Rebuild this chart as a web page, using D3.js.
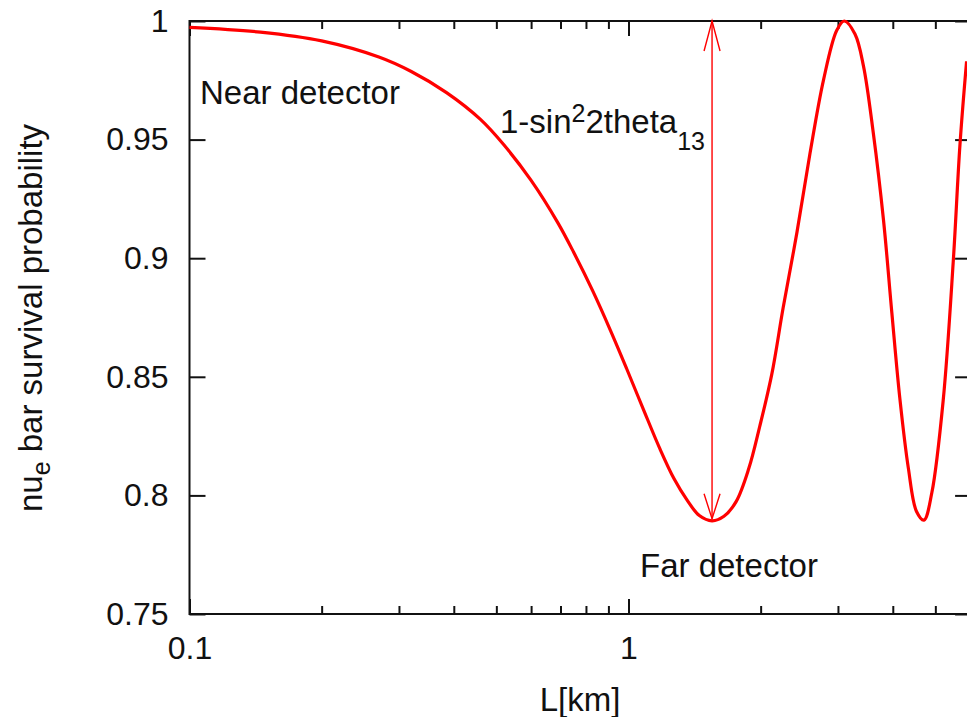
<!DOCTYPE html>
<html>
<head>
<meta charset="utf-8">
<script src="https://cdn.jsdelivr.net/npm/d3@7"></script>
<style>
  html, body { margin: 0; padding: 0; background: #fff; }
  svg text { font-family: "Liberation Sans", Arial, sans-serif; fill: #111; }
</style>
</head>
<body>
<svg id="chart" width="967" height="717"></svg>
<script>
// ---- data ----
const distanceKm = [0.10, 0.145, 0.20, 0.27, 0.32, 0.385, 0.46, 0.52, 0.60, 0.69, 0.75, 0.83, 0.91, 0.99, 1.08, 1.18, 1.27, 1.36, 1.45, 1.55, 1.65, 1.76, 1.88, 1.99, 2.12, 2.25, 2.42, 2.59, 2.78, 2.98, 3.10, 3.28, 3.43, 3.61, 3.81, 3.98, 4.15, 4.34, 4.53, 4.71, 4.91, 5.21, 5.49, 5.69, 5.89];
const survivalProb = [0.9973, 0.9953, 0.9916, 0.9848, 0.9787, 0.9698, 0.9585, 0.9478, 0.9328, 0.9150, 0.9025, 0.8860, 0.8695, 0.8535, 0.8365, 0.8195, 0.8070, 0.7980, 0.7915, 0.7893, 0.7912, 0.7975, 0.8114, 0.8290, 0.8510, 0.8790, 0.9110, 0.9440, 0.9750, 0.9960, 1.0000, 0.9945, 0.9810, 0.9530, 0.9160, 0.8770, 0.8410, 0.8115, 0.7932, 0.7896, 0.8012, 0.8400, 0.8980, 0.9480, 0.9830];
const xMajorTicks = [0.1, 1];
const xMinorTicks = [0.2, 0.3, 0.4, 0.5, 0.6, 0.7, 0.8, 0.9, 2, 3, 4, 5];
const yTicks = [0.75, 0.8, 0.85, 0.9, 0.95, 1];
const yTickLabels = ["0.75", "0.8", "0.85", "0.9", "0.95", "1"];
const arrowL = 1.55;        // km, position of the double arrow
const arrowFrom = 0.7893;   // bottom of arrow (first minimum)
const arrowTo = 1.0;        // top of arrow

// ---- layout ----
const svg = d3.select("#chart");
const padL = 189.5, padR = 970.1, padT = 21, padB = 614;
const x = d3.scaleLog().domain([0.1, 6]).range([padL, padR]);
const y = d3.scaleLinear().domain([0.75, 1]).range([padB, padT]);
const FS = 32, FL = 33, FSUB = 25;

// axes
const gAxes = svg.append("g");
function styleAxis(g) {
  g.select(".domain").remove();
  g.selectAll(".tick line").attr("stroke", "#111").attr("stroke-width", 2);
  g.selectAll(".tick text").style("font-size", FS + "px").attr("fill", "#111")
    .style("font-family", '"Liberation Sans", Arial, sans-serif');
}
// bottom major
gAxes.append("g").attr("transform", `translate(0,${padB})`)
  .call(d3.axisBottom(x).tickValues(xMajorTicks).tickSizeInner(-15).tickSizeOuter(0).tickPadding(22)
    .tickFormat(d => d === 0.1 ? "0.1" : "1"))
  .call(styleAxis);
// bottom minor
gAxes.append("g").attr("transform", `translate(0,${padB})`)
  .call(d3.axisBottom(x).tickValues(xMinorTicks).tickSizeInner(-8).tickSizeOuter(0).tickFormat(""))
  .call(styleAxis);
// top major / minor (mirror)
gAxes.append("g").attr("transform", `translate(0,${padT})`)
  .call(d3.axisTop(x).tickValues(xMajorTicks).tickSizeInner(-15).tickSizeOuter(0).tickFormat(""))
  .call(styleAxis);
gAxes.append("g").attr("transform", `translate(0,${padT})`)
  .call(d3.axisTop(x).tickValues(xMinorTicks).tickSizeInner(-8).tickSizeOuter(0).tickFormat(""))
  .call(styleAxis);
// left
gAxes.append("g").attr("transform", `translate(${padL},0)`)
  .call(d3.axisLeft(y).tickValues(yTicks).tickSizeInner(-16).tickSizeOuter(0).tickPadding(21)
    .tickFormat((d, i) => yTickLabels[i]))
  .call(styleAxis);
// right (mirror)
gAxes.append("g").attr("transform", `translate(${padR},0)`)
  .call(d3.axisRight(y).tickValues(yTicks).tickSizeInner(-15).tickSizeOuter(0).tickFormat(""))
  .call(styleAxis);

// frame
svg.append("rect").attr("x", padL).attr("y", padT)
  .attr("width", padR - padL).attr("height", padB - padT)
  .attr("fill", "none").attr("stroke", "#111").attr("stroke-width", 2);

// curve
const pts = distanceKm.map((d, i) => [d, survivalProb[i]]);
svg.append("path").datum(pts)
  .attr("fill", "none").attr("stroke", "#ff0000").attr("stroke-width", 3.2)
  .attr("stroke-linejoin", "round")
  .attr("d", d3.line().x(d => x(d[0])).y(d => y(d[1])).curve(d3.curveCatmullRom.alpha(0.5)));

// double arrow
const ax = x(arrowL), ay1 = y(arrowFrom) - 2, ay2 = y(arrowTo);
const arrow = svg.append("g").attr("stroke", "#ff0000").attr("stroke-width", 1.4).attr("fill", "none");
arrow.append("line").attr("x1", ax).attr("x2", ax).attr("y1", ay1).attr("y2", ay2);
arrow.append("path").attr("d", `M${ax - 8},${ay2 + 30} L${ax},${ay2} L${ax + 8},${ay2 + 30}`);
arrow.append("path").attr("d", `M${ax - 8},${ay1 - 25} L${ax},${ay1} L${ax + 8},${ay1 - 25}`);

// labels
svg.append("text").attr("x", 200).attr("y", 104).style("font-size", FL + "px").text("Near detector");
svg.append("text").attr("x", 640).attr("y", 577).style("font-size", FL + "px").text("Far detector");
const t = svg.append("text").attr("x", 500).attr("y", 133).style("font-size", FL + "px");
t.append("tspan").text("1-sin");
t.append("tspan").attr("dy", -11).style("font-size", FSUB + "px").text("2");
t.append("tspan").attr("dy", 11).text("2theta");
t.append("tspan").attr("dy", 17).style("font-size", FSUB + "px").text("13");

// axis titles
svg.append("text").attr("x", 580).attr("y", 711).attr("text-anchor", "middle")
  .style("font-size", FL + "px").text("L[km]");
const yt = svg.append("text").attr("transform", "translate(42,318) rotate(-90)")
  .attr("text-anchor", "middle").style("font-size", FL + "px");
yt.append("tspan").text("nu");
yt.append("tspan").attr("dy", 8).style("font-size", FSUB + "px").text("e");
yt.append("tspan").attr("dy", -8).text(" bar survival probability");
</script>
</body>
</html>
